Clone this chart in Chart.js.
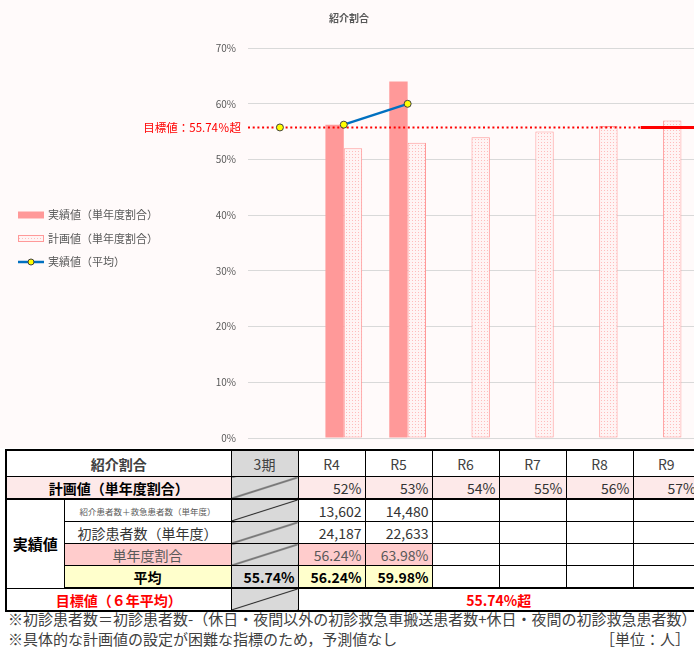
<!DOCTYPE html>
<html>
  <head>
    <meta charset="utf-8" />
    <title>紹介割合</title>
    <script src="https://cdn.jsdelivr.net/npm/chart.js"></script>
    <style>
      html,
      body {
        margin: 0;
        padding: 0;
      }
      body {
        width: 694px;
        height: 650px;
        overflow: hidden;
        position: relative;
        background: #fff;
        font-family: "Noto Sans CJK JP", sans-serif;
        color: #333;
      }
      .chart {
        position: absolute;
        left: 0;
        top: 0;
        width: 700px;
        height: 448px;
        background: #fffafa;
      }
      table {
        position: absolute;
        left: 5px;
        top: 449px;
        width: 694px;
        border-collapse: collapse;
        table-layout: fixed;
        font-size: 14px;
        border: 2px solid #000;
        background: #fff;
      }
      td {
        border: 1px solid #000;
        height: 21px;
        padding: 0 3px;
        white-space: nowrap;
        overflow: hidden;
        line-height: 20px;
        text-align: right;
        color: #333;
      }
      tr.head td {
        height: 25px;
        text-align: center;
        color: #404040;
      }
      td.label {
        text-align: center;
      }
      td.bold {
        font-weight: bold;
        color: #000;
      }
      td.gray {
        background: #d9d9d9;
      }
      td.slash {
        background: linear-gradient(
          to bottom right,
          #d9d9d9 calc(50% - 1px),
          #222 50%,
          #d9d9d9 calc(50% + 1px)
        );
      }
      td.plan {
        background: #fde9e9;
      }
      td.ratio {
        background: #ffcccc;
        color: #595959;
      }
      td.avg {
        background: #ffffcc;
      }
      td.small {
        font-size: 8.5px;
        color: #595959;
        text-align: center;
      }
      td.red {
        color: #ff0000;
        font-weight: bold;
        text-align: center;
      }
      tr.thick td {
        border-bottom: 2px solid #000;
      }
      .notes {
        position: absolute;
        left: 8px;
        top: 609px;
        width: 682px;
        font-size: 15px;
        line-height: 20px;
        color: #404040;
      }
      .notes .unit {
        float: right;
      }
    </style>
  </head>

  <body>
    <div class="chart"><canvas id="ratioChart"></canvas></div>
    <table id="ratioTable">
      <colgroup>
        <col style="width: 58px" />
        <col style="width: 167px" />
        <col style="width: 67px" />
        <col style="width: 67px" />
        <col style="width: 67px" />
        <col style="width: 67px" />
        <col style="width: 67px" />
        <col style="width: 67px" />
        <col style="width: 67px" />
      </colgroup>
    </table>
    <div class="notes">
      <div>※初診患者数＝初診患者数-（休日・夜間以外の初診救急車搬送患者数+休日・夜間の初診救急患者数）</div>
      <div>※具体的な計画値の設定が困難な指標のため，予測値なし<span class="unit">［単位：人］</span></div>
    </div>

    <script>
      const categories = ["3期", "R4", "R5", "R6", "R7", "R8", "R9"];
      const actualRatio = [null, 56.24, 63.98, null, null, null, null];
      const planRatio = [null, 52, 53, 54, 55, 56, 57];
      const averageRatio = [55.74, 56.24, 59.98, null, null, null, null];
      const referredPatients = [null, 13602, 14480, null, null, null, null];
      const firstVisitPatients = [null, 24187, 22633, null, null, null, null];
      const targetRatio = 55.74;
      const yMax = 70;
      const yStep = 10;

      const pink = "#ff9999";
      const blue = "#0070c0";

      // light dotted fill used for the plan bars
      function dotPattern() {
        const c = document.createElement("canvas");
        c.width = 3;
        c.height = 3;
        const g = c.getContext("2d");
        g.fillStyle = "#fff4f4";
        g.fillRect(0, 0, 3, 3);
        g.fillStyle = "#ffbcbc";
        g.fillRect(1, 1, 1, 1);
        return g.createPattern(c, "repeat");
      }
      const planFill = dotPattern();

      // red target line: dotted across the years, solid on the last one
      const targetLine = {
        id: "targetLine",
        afterDatasetDraw(chart, args) {
          if (args.index !== 0) return;
          const { ctx, chartArea } = chart;
          const x = chart.scales.x;
          const y = chart.scales.y.getPixelForValue(targetRatio);
          const step = x.getPixelForValue(1) - x.getPixelForValue(0);
          const solidFrom = x.getPixelForValue(categories.length - 1) - step * 0.35;
          ctx.save();
          ctx.strokeStyle = "#ff0000";
          ctx.lineWidth = 2;
          ctx.setLineDash([2, 2.7]);
          ctx.beginPath();
          ctx.moveTo(chartArea.left, y);
          ctx.lineTo(solidFrom, y);
          ctx.stroke();
          ctx.setLineDash([]);
          ctx.lineWidth = 3;
          ctx.beginPath();
          ctx.moveTo(solidFrom, y);
          ctx.lineTo(chartArea.right, y);
          ctx.stroke();
          ctx.fillStyle = "#ff0000";
          ctx.font = "11.5px 'Noto Sans CJK JP'";
          ctx.textAlign = "right";
          ctx.textBaseline = "middle";
          ctx.fillText("目標値：" + targetRatio + "％超", chartArea.left - 7, y);
          ctx.restore();
        },
      };

      // legend on the left side
      const sideLegend = {
        id: "sideLegend",
        afterDraw(chart) {
          const ctx = chart.ctx;
          const left = 18;
          const top = 215;
          const gap = 23.5;
          ctx.save();
          ctx.font = "11px 'Noto Sans CJK JP'";
          ctx.textBaseline = "middle";
          chart.data.datasets.forEach((ds, i) => {
            const cy = top + i * gap;
            if (ds.type === "line") {
              ctx.strokeStyle = blue;
              ctx.lineWidth = 2.5;
              ctx.beginPath();
              ctx.moveTo(left, cy);
              ctx.lineTo(left + 26, cy);
              ctx.stroke();
              ctx.beginPath();
              ctx.arc(left + 13, cy, 3, 0, Math.PI * 2);
              ctx.fillStyle = "#ffff00";
              ctx.fill();
              ctx.lineWidth = 1;
              ctx.strokeStyle = "#404040";
              ctx.stroke();
            } else {
              ctx.fillStyle = ds.backgroundColor;
              ctx.fillRect(left, cy - 3.5, 26, 7);
              if (ds.borderWidth) {
                ctx.strokeStyle = ds.borderColor;
                ctx.lineWidth = 1;
                ctx.strokeRect(left + 0.5, cy - 3, 25, 6);
              }
            }
            ctx.fillStyle = "#595959";
            ctx.fillText(ds.label, left + 30, cy);
          });
          ctx.restore();
        },
      };

      Chart.defaults.font.family = "'Noto Sans CJK JP', sans-serif";
      Chart.defaults.color = "#595959";

      new Chart(document.getElementById("ratioChart"), {
        type: "bar",
        data: {
          labels: categories,
          datasets: [
            {
              label: "実績値（単年度割合）",
              data: actualRatio,
              backgroundColor: pink,
              borderWidth: 0,
              order: 1,
            },
            {
              label: "計画値（単年度割合）",
              data: planRatio,
              backgroundColor: planFill,
              borderColor: pink,
              borderWidth: 1,
              borderSkipped: false,
              order: 2,
            },
            {
              type: "line",
              label: "実績値（平均）",
              data: averageRatio,
              borderColor: blue,
              borderWidth: 2.5,
              pointRadius: 3.5,
              pointBackgroundColor: "#ffff00",
              pointBorderColor: "#404040",
              pointBorderWidth: 1,
              segment: {
                borderColor: (c) => (c.p0DataIndex === 0 ? "rgba(0,0,0,0)" : undefined),
              },
              order: 0,
            },
          ],
        },
        options: {
          responsive: true,
          maintainAspectRatio: false,
          animation: false,
          datasets: {
            bar: { categoryPercentage: 0.575, barPercentage: 1 },
          },
          layout: { padding: { left: 0, right: 2, top: 0, bottom: 10 } },
          plugins: {
            legend: { display: false },
            tooltip: { enabled: false },
            title: {
              display: true,
              text: "紹介割合",
              color: "#595959",
              font: { size: 10, weight: "bold" },
              padding: { top: 12, bottom: 24 },
            },
          },
          scales: {
            x: { display: false },
            y: {
              min: 0,
              max: yMax,
              afterFit(scale) {
                scale.width = 248;
                scale.paddingTop = 6;
                scale.paddingBottom = 6;
              },
              ticks: {
                stepSize: yStep,
                padding: 12,
                font: { size: 10 },
                callback: (v) => v + "%",
              },
              border: { display: false },
              grid: { color: "#d9d9d9", drawTicks: false },
            },
          },
        },
        plugins: [targetLine, sideLegend],
      });

      // data table under the chart
      const fmt = (n) => (n == null ? "" : n.toLocaleString("en-US"));
      const pct = (n) => (n == null ? "" : n.toFixed(2) + "%");
      const years = categories.slice(1);
      const rows = [];
      rows.push(
        '<tr class="head"><td colspan="2" class="label bold">紹介割合</td><td class="gray">' +
          categories[0] +
          "</td>" +
          years.map((c) => "<td>" + c + "</td>").join("") +
          "</tr>"
      );
      rows.push(
        '<tr class="thick"><td colspan="2" class="label bold plan">計画値（単年度割合）</td><td class="slash"></td>' +
          years.map((c, i) => '<td class="plan">' + planRatio[i + 1] + "%</td>").join("") +
          "</tr>"
      );
      rows.push(
        '<tr><td rowspan="4" class="label bold" style="font-size:15px">実績値</td><td class="small">紹介患者数＋救急患者数（単年度）</td><td class="slash"></td>' +
          years.map((c, i) => "<td>" + fmt(referredPatients[i + 1]) + "</td>").join("") +
          "</tr>"
      );
      rows.push(
        '<tr><td class="label">初診患者数（単年度）</td><td class="slash"></td>' +
          years.map((c, i) => "<td>" + fmt(firstVisitPatients[i + 1]) + "</td>").join("") +
          "</tr>"
      );
      rows.push(
        '<tr><td class="label ratio">単年度割合</td><td class="slash"></td>' +
          years
            .map((c, i) =>
              actualRatio[i + 1] == null ? "<td></td>" : '<td class="ratio">' + pct(actualRatio[i + 1]) + "</td>"
            )
            .join("") +
          "</tr>"
      );
      rows.push(
        '<tr class="thick"><td class="label bold avg">平均</td><td class="gray bold">' +
          pct(averageRatio[0]) +
          "</td>" +
          years
            .map((c, i) =>
              averageRatio[i + 1] == null ? "<td></td>" : '<td class="avg bold">' + pct(averageRatio[i + 1]) + "</td>"
            )
            .join("") +
          "</tr>"
      );
      rows.push(
        '<tr><td colspan="2" class="red">目標値（６年平均）</td><td class="slash"></td><td colspan="6" class="red">' +
          targetRatio +
          "%超</td></tr>"
      );
      document.getElementById("ratioTable").insertAdjacentHTML("beforeend", rows.join(""));
    </script>
  </body>
</html>
